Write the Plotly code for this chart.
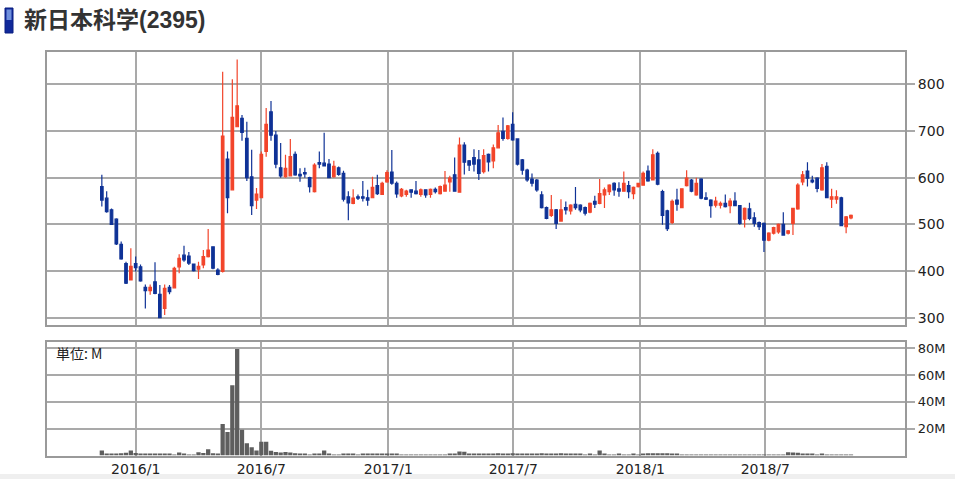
import plotly.graph_objects as go
import pandas as pd

W, H = 955, 479

# ---------------- data (weekly candles) ----------------
first_week = "2015-11-13"

opens = [581, 556, 531, 511, 457, 416, 381, 416, 409, 365, 358, 377, 350, 320, 365, 364, 409, 434, 432, 415,
         404, 413, 431, 452, 402, 399, 640, 574, 709, 727, 684, 602, 552, 557, 656, 741, 691, 621, 602, 604,
         650, 607, 611, 600, 570, 632, 631, 629, 602, 621, 609, 559, 545, 559, 559, 557, 557, 583, 564, 591,
         612, 588, 561, 564, 574, 571, 564, 574, 564, 575, 566, 571, 591, 606, 569, 670, 636, 643, 638, 613,
         650, 636, 664, 699, 684, 714, 683, 638, 616, 597, 595, 563, 536, 519, 531, 507, 536, 529, 543, 541,
         536, 526, 549, 545, 563, 570, 588, 576, 571, 583, 566, 581, 584, 614, 595, 652, 570, 529, 504, 552,
         536, 583, 595, 563, 597, 557, 552, 541, 541, 545, 540, 550, 540, 511, 533, 514, 504, 502, 466, 481,
         484, 500, 481, 502, 533, 591, 614, 595, 599, 574, 624, 554, 554, 557, 495, 514]
highs = [606, 571, 534, 513, 463, 420, 449, 431, 414, 371, 371, 419, 370, 371, 370, 409, 436, 454, 441, 416,
         420, 445, 490, 453, 406, 827, 656, 811, 853, 734, 720, 660, 578, 656, 749, 764, 700, 674, 649, 683,
         656, 620, 621, 602, 631, 656, 696, 640, 636, 624, 615, 571, 575, 564, 593, 574, 602, 606, 591, 616,
         659, 592, 578, 574, 575, 593, 577, 575, 577, 579, 583, 614, 604, 643, 686, 676, 638, 661, 659, 661,
         652, 671, 713, 729, 713, 740, 684, 640, 619, 609, 597, 571, 538, 563, 533, 554, 549, 543, 580, 543,
         538, 547, 561, 597, 579, 586, 590, 590, 613, 593, 581, 589, 613, 626, 661, 656, 574, 531, 553, 576,
         577, 616, 597, 600, 599, 569, 554, 559, 549, 564, 556, 569, 541, 536, 546, 526, 506, 504, 483, 495,
         502, 526, 488, 534, 588, 614, 633, 604, 601, 629, 633, 576, 573, 559, 518, 521]
lows = [538, 525, 499, 456, 424, 372, 381, 399, 377, 320, 349, 350, 299, 306, 350, 363, 395, 420, 413, 399,
        383, 406, 429, 404, 391, 397, 524, 574, 709, 679, 593, 520, 533, 556, 645, 679, 620, 600, 600, 604,
        604, 591, 600, 568, 568, 620, 625, 599, 600, 604, 549, 509, 543, 552, 549, 540, 556, 563, 563, 589,
        585, 557, 558, 559, 557, 564, 559, 557, 557, 566, 564, 570, 570, 570, 569, 607, 614, 613, 595, 609,
        613, 620, 663, 679, 681, 679, 626, 606, 591, 581, 570, 534, 511, 516, 490, 506, 521, 521, 531, 526,
        519, 524, 535, 543, 535, 563, 561, 559, 570, 556, 554, 579, 583, 591, 595, 584, 499, 486, 501, 529,
        535, 581, 569, 561, 554, 552, 514, 536, 534, 536, 524, 539, 499, 493, 509, 495, 488, 441, 464, 478,
        480, 476, 478, 477, 531, 584, 581, 588, 569, 572, 556, 535, 544, 496, 481, 511]
closes = [552, 527, 500, 458, 426, 374, 410, 407, 379, 358, 365, 352, 300, 363, 356, 406, 427, 424, 417, 401,
          410, 431, 445, 406, 393, 689, 557, 729, 754, 697, 600, 540, 565, 650, 714, 691, 629, 604, 620, 645,
          606, 604, 608, 581, 627, 629, 625, 600, 624, 607, 554, 546, 556, 556, 556, 552, 579, 566, 588, 611,
          588, 565, 575, 571, 569, 566, 574, 563, 575, 570, 581, 584, 599, 571, 670, 633, 627, 629, 609, 647,
          634, 664, 696, 684, 711, 681, 629, 616, 595, 588, 574, 536, 513, 531, 502, 531, 531, 541, 536, 531,
          524, 545, 543, 566, 574, 584, 574, 571, 588, 570, 579, 588, 609, 593, 649, 586, 519, 491, 549, 543,
          576, 599, 571, 588, 556, 554, 540, 550, 545, 538, 550, 540, 502, 534, 513, 502, 495, 466, 481, 493,
          500, 477, 486, 534, 584, 606, 599, 591, 577, 621, 557, 559, 559, 497, 516, 519]
volume_m = [3.8, 1.3, 1.3, 1.4, 1.6, 2.0, 3.8, 1.8, 1.3, 1.2, 1.1, 1.3, 1.4, 1.3, 0.9, 0.7, 2.2, 1.4, 0.7, 0.6,
            2.5, 1.8, 4.7, 1.7, 0.8, 23.5, 17.5, 52.5, 79.5, 19.2, 9.2, 6.2, 3.8, 10.3, 10.3, 3.5, 2.6, 2.3, 2.6, 2.3,
            1.6, 1.2, 1.0, 0.7, 0.9, 1.4, 3.8, 1.2, 0.7, 0.6, 1.1, 1.2, 1.1, 0.6, 1.3, 1.2, 1.3, 1.4, 1.3, 1.4,
            1.2, 0.9, 0.6, 0.5, 0.6, 0.5, 0.5, 0.6, 0.5, 0.5, 0.6, 0.7, 0.8, 1.4, 2.9, 2.8, 1.5, 1.4, 1.4, 1.3,
            1.4, 1.3, 1.6, 1.4, 1.3, 1.6, 1.5, 1.4, 1.4, 1.5, 1.4, 1.6, 1.5, 1.4, 1.3, 1.6, 1.4, 1.3, 1.5, 1.0,
            0.6, 1.1, 0.5, 3.8, 1.3, 0.6, 0.7, 1.0, 0.5, 0.6, 1.2, 0.5, 1.5, 1.6, 1.7, 1.7, 1.6, 1.7, 1.5, 0.8,
            0.5, 0.5, 0.4, 0.5, 0.5, 0.4, 0.4, 0.5, 0.4, 0.4, 0.5, 0.5, 0.6, 0.5, 0.5, 0.4, 0.4, 0.6, 0.5, 0.4,
            0.5, 0.6, 2.4, 2.2, 2.1, 1.0, 0.9, 0.8, 0.7, 0.8, 0.7, 0.6, 0.6, 0.7, 0.6, 0.5]

price_ticks = [300, 400, 500, 600, 700, 800]
volume_ticks = [20, 40, 60, 80]
volume_tick_labels = ["20M", "40M", "60M", "80M"]
date_ticks = ["2016-01-01", "2016-07-01", "2017-01-01", "2017-07-01", "2018-01-01", "2018-07-01"]
date_tick_labels = ["2016/1", "2016/7", "2017/1", "2017/7", "2018/1", "2018/7"]

title_text = "新日本科学(2395)"
unit_text = "単位: M"

# ---------------- styling ----------------
RED = "#f2442a"
BLUE = "#0f3296"
GRID = "#a9a9a9"
BORDER = "#9a9a9a"
TXT = "#222222"
FONT = "DejaVu Sans, Noto Sans CJK JP, sans-serif"

dates = pd.date_range(first_week, periods=len(opens), freq="7D")

def fx(p):
    return p / W

def fy(p):
    return 1 - p / H

x_dom = [fx(47.3), fx(905.3)]
x_range = ["2015-08-26", "2019-01-19 17:00"]

fig = go.Figure()
fig.add_trace(go.Candlestick(
    x=dates, open=opens, high=highs, low=lows, close=closes,
    xaxis="x", yaxis="y",
    increasing=dict(line=dict(color=RED, width=1.2), fillcolor=RED),
    decreasing=dict(line=dict(color=BLUE, width=1.2), fillcolor=BLUE),
    whiskerwidth=0, showlegend=False, hoverinfo="skip",
))
fig.add_trace(go.Bar(
    x=dates, y=volume_m, xaxis="x2", yaxis="y2",
    marker=dict(color="#5e5e5e", line=dict(width=0)),
    width=6.2 * 86400000, showlegend=False, hoverinfo="skip",
))

common_x = dict(
    domain=x_dom, range=x_range, type="date", automargin=False,
    tickvals=date_ticks, ticktext=date_tick_labels,
    showgrid=True, gridcolor=GRID, gridwidth=1.5,
    showline=True, mirror=True, linecolor=BORDER, linewidth=1.5,
    zeroline=False, ticks="",
)

fig.update_layout(
    width=W, height=H,
    margin=dict(l=0, r=0, t=0, b=0, autoexpand=False),
    paper_bgcolor="white", plot_bgcolor="white",
    boxgap=0.25,
    showlegend=False,
    font=dict(family=FONT, color=TXT),
    xaxis=dict(common_x, anchor="y", showticklabels=False, rangeslider=dict(visible=False)),
    xaxis2=dict(common_x, anchor="y2", showticklabels=True,
                tickfont=dict(size=14, color=TXT, family=FONT)),
    yaxis=dict(
        domain=[fy(325), fy(51.7)], range=[284.4, 869.8], side="right", anchor="x", automargin=False,
        tickvals=price_ticks, ticks="outside", ticklen=8, tickcolor=GRID, tickwidth=1.5,
        showgrid=True, gridcolor=GRID, gridwidth=1.5, zeroline=False,
        showline=True, mirror=True, linecolor=BORDER, linewidth=1.5,
        tickfont=dict(size=14, color=TXT, family=FONT),
    ),
    yaxis2=dict(
        domain=[fy(455.5), fy(341.5)], range=[0, 85.1], side="right", anchor="x2", automargin=False,
        tickvals=volume_ticks, ticktext=volume_tick_labels,
        ticks="outside", ticklen=8, tickcolor=GRID, tickwidth=1.5,
        showgrid=True, gridcolor=GRID, gridwidth=1.5, zeroline=False,
        showline=True, mirror=True, linecolor=BORDER, linewidth=1.5,
        tickfont=dict(size=13, color=TXT, family=FONT),
    ),
    shapes=[
        dict(type="rect", xref="paper", yref="paper", x0=0, x1=1, y0=fy(479), y1=fy(474),
             fillcolor="#efefef", line=dict(width=0), layer="below"),
        dict(type="rect", xref="paper", yref="paper", x0=fx(5), x1=fx(13), y0=fy(33), y1=fy(8),
             fillcolor="#10299a", line=dict(color="#0a1f80", width=1)),
        dict(type="rect", xref="paper", yref="paper", x0=fx(6.5), x1=fx(11.5), y0=fy(20), y1=fy(9.5),
             fillcolor="#7090dc", line=dict(width=0)),
    ],
    annotations=[
        dict(text="<b>" + title_text + "</b>", xref="paper", yref="paper",
             x=fx(22), y=fy(20.5), xanchor="left", yanchor="middle", showarrow=False,
             font=dict(size=23, color="#333333", family="Liberation Sans, Noto Sans CJK JP, sans-serif")),
        dict(text=unit_text, xref="paper", yref="paper",
             x=fx(54), y=fy(353), xanchor="left", yanchor="middle", showarrow=False,
             font=dict(size=14, color=TXT, family="Noto Sans CJK JP, DejaVu Sans, sans-serif")),
    ],
)

fig.write_html("out.html", config={"displayModeBar": False},
               post_script="document.body.style.margin='0';document.body.style.padding='0';")
